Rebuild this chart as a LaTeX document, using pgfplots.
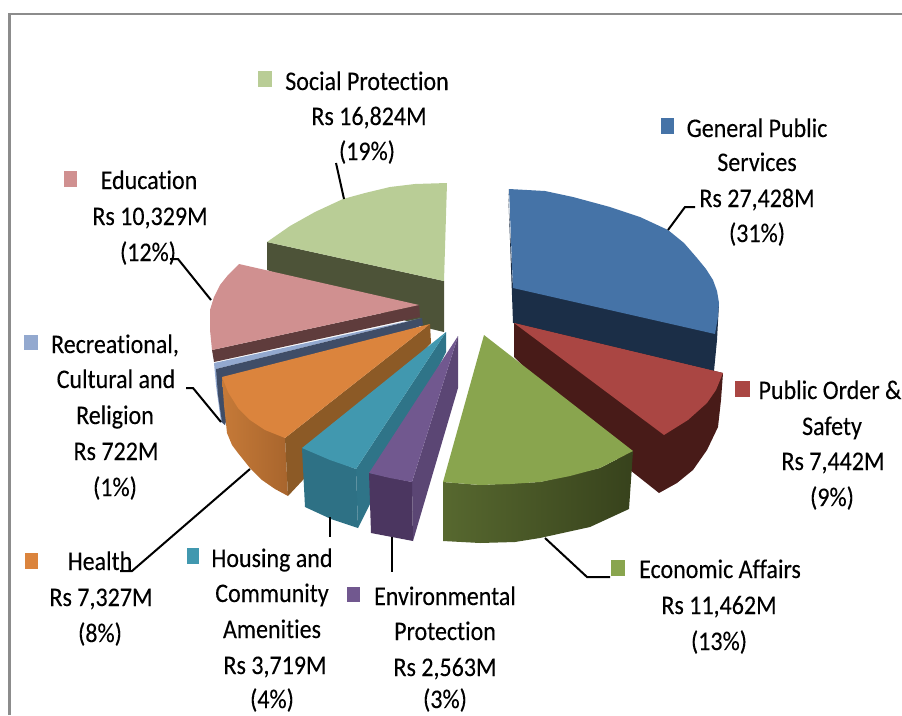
\documentclass[border=0pt]{standalone}
\usepackage{fontspec}
\setmainfont[Ligatures=NoCommon]{Carlito}
\usepackage{graphicx}
\usepackage{pgfplots}
\pgfplotsset{compat=1.18}
\definecolor{cBlue}{HTML}{4573A7}\definecolor{cBlueS}{HTML}{1B2E47}
\definecolor{cRed}{HTML}{AA4643}\definecolor{cRedS}{HTML}{481B18}
\definecolor{cGreen}{HTML}{89A54E}\definecolor{cGreenL}{HTML}{57682F}\definecolor{cGreenD}{HTML}{37421C}
\definecolor{cPurple}{HTML}{71588F}\definecolor{cPurpleS}{HTML}{5B4674}\definecolor{cPurpleF}{HTML}{4B3660}
\definecolor{cTeal}{HTML}{4198AF}\definecolor{cTealS}{HTML}{2F7488}\definecolor{cTealF}{HTML}{2E7185}
\definecolor{cOrange}{HTML}{DB843D}\definecolor{cOrangeS}{HTML}{8C5A26}\definecolor{cOrangeL}{HTML}{C67A38}\definecolor{cOrangeD}{HTML}{A8652D}
\definecolor{cLBlue}{HTML}{93A9CF}\definecolor{cLBlueS}{HTML}{3F4D67}
\definecolor{cPink}{HTML}{D09090}\definecolor{cPinkS}{HTML}{5F3C3C}
\definecolor{cSage}{HTML}{B9CD96}\definecolor{cSageS}{HTML}{4D5338}
\newcommand{\lbl}[3]{\node[anchor=base,inner sep=0pt,font=\fontsize{24}{24}\selectfont\addfontfeatures{FakeBold=0.2}] at (axis cs:#1,#2) {\scalebox{1}[1.12]{#3}};}
\begin{document}
\begin{tikzpicture}[x=1pt,y=1pt]
\useasboundingbox (0,0) rectangle (902pt,715pt);
\begin{axis}[at={(0,0)},anchor=south west,scale only axis,width=902pt,height=715pt,
  xmin=0,xmax=902,ymin=0,ymax=715,y dir=reverse,hide axis,clip mode=individual,
  every axis plot/.append style={mark=none,draw=none}]
% frame
\addplot[draw={rgb,255:red,140;green,140;blue,140},line width=2.4pt] coordinates {(9.5,715)(9.5,14)(902,14)};
% Social Protection
\addplot[fill=cSageS] coordinates {(267,242)(444,281)(444,332)(423,327)(267,270)};
\addplot[fill=cSage] coordinates {(447,183)(415,184)(390,187)(365,193)(343,199)(315,212)(290,226)(267,242)(444,281)};
% General Public Services
\addplot[fill=cBlueS] coordinates {(508,189)(510,240)(513,323)(714,371)(717,340)(719,303)(513,288)};
\addplot[fill=cBlue] coordinates {(509,189)(545,191)(573,197)(610,207)(640,217)(668,230)(684,243)(697,258)(706,269)(713,280)(717,291)(719,303)(718,317)(715,334)(513,288)(511,240)};
% Public Order
\addplot[fill=cRedS] coordinates {(514,323)(723,373)(721,400)(718,427)(707,450)(693,470)(677,483)(659,493)(630,470)(514,357)};
\addplot[fill=cRed] coordinates {(514,323)(723,373)(716,390)(707,403)(688,420)(664,435)};
% Economic Affairs
\addplot[left color=cGreenL,right color=cGreenD] coordinates {(443,482)(443,541)(480,543)(515,542)(540,538)(590,527)(629,509)(633,451)(600,468)(540,482)(480,485)};
\addplot[fill=cGreen] coordinates {(484,335)(633,451)(600,468)(570,476)(540,482)(510,484)(480,485)(443,482)};
% Education
\addplot[fill=cPinkS] coordinates {(212,350)(419,305)(420,317)(214,362)};
\addplot[fill=cPink] coordinates {(419,305)(239,264)(228,275)(220,285)(214,297)(210,310)(210,330)(212,350)};
% Recreational
\addplot[fill=cLBlue] coordinates {(422,318)(214,363)(216,385)(221,422)(225,425)(227,400)(216,369)};
\addplot[fill=cLBlueS] coordinates {(422,318)(216,369)(218,395)(222,422)(225,425)(232,400)(423,325)};
% Health
\addplot[left color=cOrangeL,right color=cOrangeD] coordinates {(222,377)(285,438)(288,496)(275,489)(262,480)(250,468)(238,453)(232,445)(227,433)(224,405)};
\addplot[fill=cOrangeS] coordinates {(430,324)(431,343)(288,496)(285,438)};
\addplot[fill=cOrange] coordinates {(430,324)(285,438)(265,430)(250,420)(238,408)(228,392)(222,377)};
% Housing
\addplot[fill=cTealS] coordinates {(446,332)(446,352)(367,510)(358,528)(356,469)};
\addplot[fill=cTealF] coordinates {(302,448)(356,469)(358,528)(331,519)(305,507)};
\addplot[fill=cTeal] coordinates {(446,332)(356,469)(330,460)(302,448)};
% Environmental
\addplot[fill=cPurpleS] coordinates {(458,336)(458,388)(413,541)(412,482)};
\addplot[fill=cPurpleF] coordinates {(369,473)(412,482)(413,541)(371,533)};
\addplot[fill=cPurple] coordinates {(458,336)(412,482)(390,478)(369,473)};
% leaders
\addplot[draw=black,line width=2pt] coordinates {(336,163)(344,199)};
\addplot[draw=black,line width=2pt] coordinates {(668,230)(685,207)(695,207)};
\addplot[draw=black,line width=2pt] coordinates {(545,538)(587,577)(610,577)};
\addplot[draw=black,line width=2pt] coordinates {(392,537)(392,572)};
\addplot[draw=black,line width=2pt] coordinates {(330,517)(330,537)};
\addplot[draw=black,line width=2pt] coordinates {(250,469)(132,571)(120,571)};
\addplot[draw=black,line width=2pt] coordinates {(221,422)(193,388)(186,388)};
\addplot[draw=black,line width=2pt] coordinates {(211,300)(178,259)(170,259)};
% legend keys
\addplot[fill=cBlue] coordinates {(661,118)(674,118)(674,134)(661,134)};
\addplot[fill=cRed] coordinates {(735,381)(750,381)(750,397)(735,397)};
\addplot[fill=cGreen] coordinates {(611,560)(625,560)(625,576)(611,576)};
\addplot[fill=cPurple] coordinates {(347,587)(360,587)(360,602)(347,602)};
\addplot[fill=cTeal] coordinates {(187,548)(199,548)(199,564)(187,564)};
\addplot[fill=cOrange] coordinates {(25,553)(38,553)(38,569)(25,569)};
\addplot[fill=cLBlue] coordinates {(24,335)(38,335)(38,350)(24,350)};
\addplot[fill=cPink] coordinates {(64,171)(77,171)(77,187)(64,187)};
\addplot[fill=cSage] coordinates {(258,71)(272,71)(272,87)(258,87)};
% labels
\lbl{757}{137}{General Public}\lbl{757}{171}{Services}\lbl{757}{207}{Rs 27,428M}\lbl{757}{242}{(31\%)}
\lbl{367}{90}{Social Protection}\lbl{369}{125}{Rs 16,824M}\lbl{367}{160}{(19\%)}
\lbl{149}{189}{Education}\lbl{150}{225}{Rs 10,329M}\lbl{148}{261}{(12\%)}
\lbl{115}{353}{Recreational,}\lbl{116}{388}{Cultural and}\lbl{115}{424}{Religion}\lbl{116}{460}{Rs 722M}\lbl{115}{496}{(1\%)}
\lbl{830}{399}{Public Order \&}\lbl{832}{435}{Safety}\lbl{833}{470}{Rs 7,442M}\lbl{832}{506}{(9\%)}
\lbl{720}{578}{Economic Affairs}\lbl{719}{614}{Rs 11,462M}\lbl{719}{650}{(13\%)}
\lbl{445}{605}{Environmental}\lbl{445}{640}{Protection}\lbl{445}{676}{Rs 2,563M}\lbl{445}{708}{(3\%)}
\lbl{272}{567}{Housing and}\lbl{272}{602}{Community}\lbl{272}{638}{Amenities}\lbl{275}{674}{Rs 3,719M}\lbl{272}{708}{(4\%)}
\lbl{100}{570}{Health}\lbl{101}{606}{Rs 7,327M}\lbl{100}{642}{(8\%)}
\end{axis}
\end{tikzpicture}
\end{document}
